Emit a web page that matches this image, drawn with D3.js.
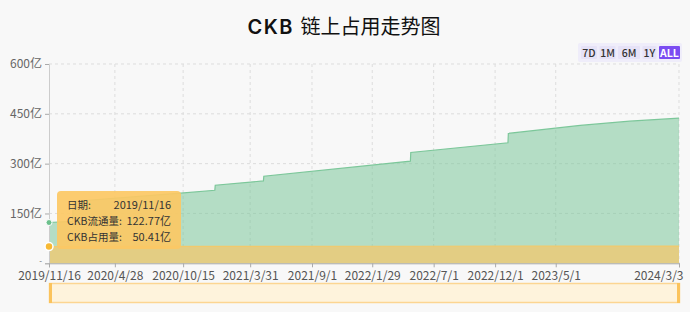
<!DOCTYPE html>
<html lang="zh">
<head>
    <meta charset="UTF-8">
    <title>CKB 链上占用走势图</title>
    <script src="https://d3js.org/d3.v7.min.js"></script>
    <style>
        body { margin: 0; background: #f8f8f8; }
        text { font-family: "Noto Sans CJK SC", "Noto Sans", sans-serif; }
    </style>
</head>
<body>
<script>
    const width  = 690;
    const height = 312;

    // CKB 流通量 (亿)
    const supplyDates  = ["2019-11-16", "2020-01-14", "2020-01-15", "2020-10-09", "2021-01-02", "2021-01-03",
                          "2021-05-03", "2021-05-04", "2022-05-04", "2022-05-05", "2023-01-02", "2023-01-03",
                          "2023-07-01", "2023-11-01", "2024-03-03"];
    const supplyValues = [122.77, 126, 186, 211, 220, 235,
                          248, 262, 307.5, 333.7, 362.7, 391,
                          415, 428, 437];
    // CKB 占用量 (亿)
    const usedDates  = ["2019-11-16", "2021-01-01", "2022-06-01", "2024-03-03"];
    const usedValues = [50.41, 50.8, 51.3, 52];

    const xTickDates = ["2019-11-16", "2020-04-28", "2020-10-15", "2021-03-31", "2021-09-01",
                        "2022-01-29", "2022-07-01", "2022-12-01", "2023-05-01", "2024-03-03"];
    const yTicks = [0, 150, 300, 450, 600];
    const ranges = ["7D", "1M", "6M", "1Y", "ALL"];

    const parse = d3.timeParse("%Y-%m-%d");
    const fmt = d3.timeFormat("%Y/%-m/%-d");
    const supply = supplyDates.map((d, i) => ({date: parse(d), value: supplyValues[i]}));
    const used = usedDates.map((d, i) => ({date: parse(d), value: usedValues[i]}));

    const x = d3.scaleTime()
        .domain([parse("2019-11-16"), parse("2024-03-03")])
        .range([49, 679]);
    const y = d3.scaleLinear().domain([0, 600]).range([263.3, 64]);

    const svg = d3.select("body").append("svg")
        .attr("width", width).attr("height", height);

    svg.append("rect").attr("width", width).attr("height", height).attr("fill", "#f8f8f8");

    // title
    const title = svg.append("text")
        .attr("x", 344).attr("y", 34)
        .attr("text-anchor", "middle")
        .attr("font-size", 20).attr("fill", "#111");
    title.append("tspan").text("CKB ")
        .attr("font-family", "Inter, sans-serif").attr("font-weight", 600)
        .attr("letter-spacing", 1.5);
    title.append("tspan").text("链上占用走势图");

    // range buttons
    const btnW = [16, 16, 22, 14, 21];
    const btnGap = 2.5;
    svg.append("rect").attr("x", 578).attr("y", 43).attr("width", 104).attr("height", 19)
        .attr("rx", 2).attr("fill", "#efedfa");
    let bx = 581;
    ranges.forEach((r, i) => {
        const active = r === "ALL";
        svg.append("rect").attr("x", bx).attr("y", 46).attr("width", btnW[i]).attr("height", 13)
            .attr("rx", 1).attr("fill", active ? "#7b4cf2" : "#e6e2f7");
        svg.append("text").attr("x", bx + btnW[i] / 2).attr("y", 56.5)
            .attr("text-anchor", "middle").attr("font-size", 10.5)
            .attr("font-family", "Roboto, sans-serif")
            .attr("font-weight", active ? 700 : 500)
            .attr("fill", active ? "#fff" : "#333").text(r);
        bx += btnW[i] + btnGap;
    });

    // grid
    svg.append("g").selectAll("line").data(yTicks.slice(1)).join("line")
        .attr("x1", 49).attr("x2", 679)
        .attr("y1", d => y(d)).attr("y2", d => y(d))
        .attr("stroke", "#ddd").attr("stroke-dasharray", "3,3");
    svg.append("g").selectAll("line").data(xTickDates.slice(1)).join("line")
        .attr("x1", d => x(parse(d))).attr("x2", d => x(parse(d)))
        .attr("y1", 64).attr("y2", 263.3)
        .attr("stroke", "#ddd").attr("stroke-dasharray", "3,3");

    // areas
    const area = d3.area().x(d => x(d.date)).y0(y(0)).y1(d => y(d.value));
    const line = d3.line().x(d => x(d.date)).y(d => y(d.value));

    svg.append("path").datum(supply).attr("d", area)
        .attr("fill", "#7cc79a").attr("fill-opacity", 0.55);
    svg.append("path").datum(supply).attr("d", line)
        .attr("fill", "none").attr("stroke", "#7cc79a").attr("stroke-width", 1.2);
    svg.append("path").datum(used).attr("d", area)
        .attr("fill", "#e3cd83");
    svg.append("path").datum(used).attr("d", line)
        .attr("fill", "none").attr("stroke", "#f2c96c").attr("stroke-width", 1.2);

    // y axis
    const yAxis = svg.append("g").attr("transform", "translate(49,0)")
        .call(d3.axisLeft(y).tickValues(yTicks).tickSize(4).tickPadding(3)
            .tickFormat(d => d === 0 ? "-" : d + "亿"));
    yAxis.select(".domain").attr("stroke", "#ccc");
    yAxis.selectAll(".tick line").attr("stroke", "#aaa");
    yAxis.selectAll("text").attr("font-size", 12).attr("fill", "#666")
        .attr("font-family", "Inter, 'Noto Sans CJK SC', sans-serif");
    yAxis.selectAll(".tick:first-of-type text").attr("font-size", 8).attr("dy", "0em");

    // x axis
    const xAxis = svg.append("g").attr("transform", "translate(0,263.3)")
        .call(d3.axisBottom(x).tickValues(xTickDates.map(parse)).tickSize(4).tickPadding(4)
            .tickFormat(fmt));
    xAxis.select(".domain").attr("stroke", "#aaa");
    xAxis.selectAll(".tick line").attr("stroke", "#aaa");
    xAxis.selectAll("text").attr("font-size", 12).attr("fill", "#555")
        .attr("font-family", "Inter, sans-serif");
    xAxis.selectAll(".tick:last-of-type text").attr("text-anchor", "end").attr("dx", 4);

    // data zoom slider
    svg.append("rect").attr("x", 49.5).attr("y", 283.5).attr("width", 630).attr("height", 19)
        .attr("fill", "#fef3dc").attr("stroke", "#fcd592").attr("stroke-width", 1.5);
    [49, 677].forEach(hx => {
        svg.append("rect").attr("x", hx).attr("y", 283).attr("width", 3).attr("height", 20)
            .attr("fill", "#fbc35c");
    });

    // hover markers
    svg.append("circle").attr("cx", x(supply[0].date)).attr("cy", y(supply[0].value)).attr("r", 3)
        .attr("fill", "#6cc08c").attr("stroke", "#fff").attr("stroke-width", 1);
    svg.append("circle").attr("cx", x(used[0].date)).attr("cy", y(used[0].value)).attr("r", 4)
        .attr("fill", "#f7b934").attr("stroke", "#fff").attr("stroke-width", 1.5);

    // tooltip
    const tip = svg.append("g");
    tip.append("rect").attr("x", 57).attr("y", 191).attr("width", 124).attr("height", 58)
        .attr("rx", 4).attr("fill", "#fcc864").attr("fill-opacity", 0.92);
    const rows = [
        ["日期:", fmt(supply[0].date)],
        ["CKB流通量:", supply[0].value.toFixed(2) + "亿"],
        ["CKB占用量:", used[0].value.toFixed(2) + "亿"]
    ];
    rows.forEach((r, i) => {
        tip.append("text").attr("x", 67).attr("y", 209 + i * 16)
            .attr("font-size", 10.5).attr("fill", "#333").text(r[0]);
        tip.append("text").attr("x", 171).attr("y", 209 + i * 16)
            .attr("text-anchor", "end").attr("font-size", 11).attr("fill", "#333")
            .attr("font-family", "'Noto Sans', 'Noto Sans CJK SC', sans-serif").text(r[1]);
    });
</script>
</body>
</html>
